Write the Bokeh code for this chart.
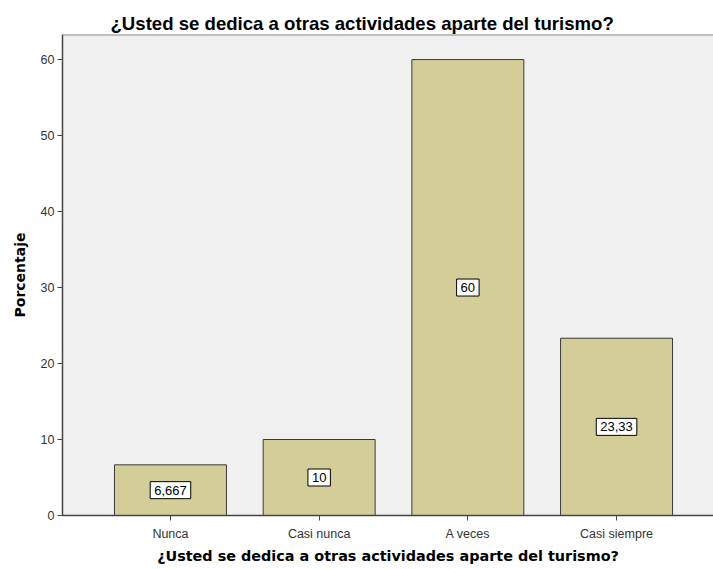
from bokeh.plotting import figure
from bokeh.models import Range1d, FixedTicker, ColumnDataSource, Span
from bokeh.core.properties import value
from bokeh.embed import file_html
from bokeh.resources import INLINE

categories = ["Nunca", "Casi nunca", "A veces", "Casi siempre"]
percentages = [6.667, 10, 60, 23.33]
y_ticks = [0, 10, 20, 30, 40, 50, 60]
y_top = 63.3
title_text = "¿Usted se dedica a otras actividades aparte del turismo?"

xs = list(range(len(categories)))
labels = [f"{v:g}".replace(".", ",") for v in percentages]
src = ColumnDataSource(dict(x=xs, top=percentages, mid=[v / 2 for v in percentages], lab=labels))

FONT = "Liberation Sans"
AFONT = "DejaVu Sans"

p = figure(width=713, height=569, output_backend="svg", toolbar_location=None,
           x_range=Range1d(-0.726, 3.652), y_range=Range1d(0, y_top),
           min_border_left=62, min_border_right=0, min_border_top=34, min_border_bottom=54)

p.title.text = title_text
p.title.text_font = FONT
p.title.text_font_size = "18.6px"
p.title.text_font_style = "bold"
p.title.text_color = "#000000"
p.title.align = "left"
p.title.offset = 48
p.title.standoff = 2

p.background_fill_color = "#f0f0f0"
p.border_fill_color = "white"
p.outline_line_color = None
p.xgrid.visible = False
p.ygrid.visible = False

p.add_layout(Span(location=y_top, dimension="width", line_color="#8a8a8a", line_width=2))

p.vbar(x="x", top="top", width=0.753, source=src, fill_color="#d3ce97",
       line_color="#3a3a3a", line_width=1)

p.text(x="x", y="mid", text="lab", source=src, text_align="center", text_baseline="middle",
       text_font=value(FONT), text_font_size="13px", text_color="#000000",
       background_fill_color="white", border_line_color="#000000", border_line_width=1,
       padding=4)

for ax in (p.xaxis[0], p.yaxis[0]):
    ax.axis_line_color = "#444444"
    ax.axis_line_width = 1.5
    ax.major_tick_line_color = "#444444"
    ax.major_tick_in = 0
    ax.major_tick_out = 5
    ax.minor_tick_line_color = None
    ax.major_label_text_font = FONT
    ax.major_label_text_font_size = "12.5px"
    ax.major_label_text_color = "#333333"
    ax.axis_label_text_font = AFONT
    ax.axis_label_text_font_style = "bold"
    ax.axis_label_text_color = "#000000"

p.yaxis.ticker = FixedTicker(ticks=y_ticks)
p.yaxis.major_label_standoff = 3
p.yaxis.axis_label = "Porcentaje"
p.yaxis.axis_label_text_font_size = "14px"
p.yaxis.axis_label_standoff = 10

p.xaxis.ticker = FixedTicker(ticks=xs)
p.xaxis.major_label_overrides = {i: c for i, c in enumerate(categories)}
p.xaxis.major_label_standoff = 6
p.xaxis.axis_label = title_text
p.xaxis.axis_label_text_font_size = "14.4px"
p.xaxis.axis_label_standoff = 4

open("out.html", "w").write(file_html(p, INLINE))
